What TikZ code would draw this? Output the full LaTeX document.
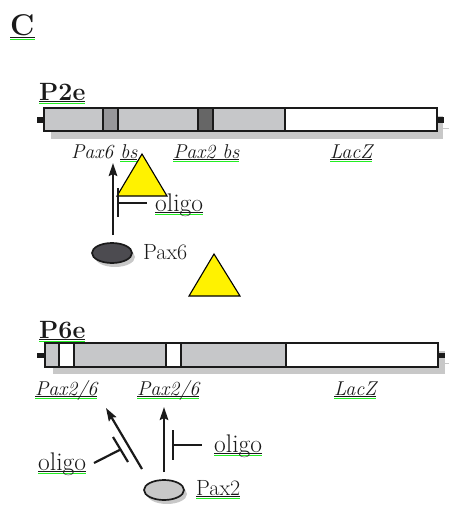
\documentclass[tikz,border=0pt]{standalone}
\usetikzlibrary{shapes.geometric,shadows,arrows.meta,calc}
\definecolor{segg}{HTML}{C6C7C9}
\definecolor{shad}{HTML}{C8C8C8}
\definecolor{ulgreen}{HTML}{22EE22}
\definecolor{boxa}{HTML}{97979A}
\definecolor{boxb}{HTML}{666666}
\definecolor{darkell}{HTML}{4C4B50}
\definecolor{ink}{HTML}{1A1A1A}
\newcommand\ulg[1]{\setbox0\hbox{#1}\rlap{\color{ink}\rule[-2.2pt]{\wd0}{0.8pt}}\rlap{\color{ulgreen}\rule[-4.4pt]{\wd0}{1.6pt}}\box0}
\begin{document}
\begin{tikzpicture}[x=1pt,y=-1pt,
  txt/.style={inner sep=0pt, anchor=base west, text=ink, font=\fontsize{22}{26}\selectfont},
  otxt/.style={inner sep=0pt, anchor=base west, text=ink, font=\fontsize{25.5}{30}\selectfont},
  itxt/.style={inner sep=0pt, anchor=base west, text=ink, font=\fontsize{20}{24}\selectfont\itshape},
  btxt/.style={inner sep=0pt, anchor=base west, text=ink, font=\fontsize{25}{30}\selectfont\bfseries},
  outline/.style={draw=ink, line width=2.1pt},
  divider/.style={draw=ink, line width=1.6pt},
  tri/.style={fill=yellow, draw=black, line width=1.1pt, line join=miter},
  arr/.style={draw=ink, line width=2.2pt, -{Stealth[length=13pt,width=8.5pt,inset=2pt]}},
  inh/.style={draw=ink, line width=2.2pt},
  protein/.style={ellipse, draw=ink, line width=1.7pt, minimum width=40pt, minimum height=20pt, inner sep=0pt,
     drop shadow={shadow xshift=3pt, shadow yshift=-4pt, fill=shad, opacity=1}}
]
\useasboundingbox (0,0) rectangle (449,508);

% panel letter
\node[inner sep=0pt, anchor=base west, text=ink, font=\fontsize{30}{36}\selectfont\bfseries] (lbC) at (10,36) {\ulg{C}};

% ---------- P2e ----------
\node[btxt] (p2e) at (39,100) {\ulg{P2e}};
\fill[shad] (51,116) rectangle (443,139);
\draw[shad, line width=1pt] (443,128) -- (449,128);
\fill[ink] (37,117.5) rectangle (44,122.5);
\fill[ink] (437,117.5) rectangle (444,122.5);
\fill[segg] (44,108) rectangle (285,131);
\fill[white] (285,108) rectangle (437,131);
\fill[boxa] (103,108) rectangle (118,131);
\fill[boxb] (198,108) rectangle (213,131);
\draw[divider] (103,108) -- (103,131);
\draw[divider] (118,108) -- (118,131);
\draw[divider] (198,108) -- (198,131);
\draw[divider] (213,108) -- (213,131);
\draw[divider] (285,108) -- (285,131);
\draw[outline] (44,108) rectangle (437,131);

\node[itxt] (l6bs) at (71,158) {Pax6 \ulg{bs}};
\node[itxt] (l2bs) at (173,158) {\ulg{Pax2 bs}};
\node[itxt] (llz1) at (330,158) {\ulg{LacZ}};

% triangle 1
\filldraw[tri] (142,154) -- (167,196) -- (117,196) -- cycle;

% Pax6 protein
\node[protein, fill=darkell] (pax6) at (112,253) {};
\node[txt] (pax6t) at (143,259) {Pax6};
\coordinate (t6) at (113,163);
\draw[arr] (t6 |- 0,235) -- (t6);

% oligo inhibitor 1
\node[otxt] (o1) at (155,211) {\ulg{oligo}};
\coordinate (b1t) at (118,188);
\coordinate (b1b) at (118,217);
\draw[inh] (b1t) -- (b1b);
\draw[inh] (b1t |- 0,203) -- (147,203);

% triangle 2
\filldraw[tri] (214,254) -- (240,296) -- (189,296) -- cycle;

% ---------- P6e ----------
\node[btxt] (p6e) at (39,338) {\ulg{P6e}};
\fill[shad] (53,351) rectangle (445,374);
\draw[shad, line width=1pt] (445,363) -- (449,363);
\fill[ink] (37,352.5) rectangle (45,357.5);
\fill[ink] (438,352.5) rectangle (445,357.5);
\fill[segg] (45,343) rectangle (286,367);
\fill[white] (286,343) rectangle (438,367);
\fill[white] (59,343) rectangle (74,367);
\fill[white] (166,343) rectangle (181,367);
\draw[divider] (59,343) -- (59,367);
\draw[divider] (74,343) -- (74,367);
\draw[divider] (166,343) -- (166,367);
\draw[divider] (181,343) -- (181,367);
\draw[divider] (286,343) -- (286,367);
\draw[outline] (45,343) rectangle (438,367);

\node[itxt] (l26a) at (35,395) {\ulg{Pax2/6}};
\node[itxt] (l26b) at (137,395) {\ulg{Pax2/6}};
\node[itxt] (llz2) at (334,395) {\ulg{LacZ}};

% Pax2 protein
\node[protein, fill=shad] (pax2) at (164,490) {};
\node[txt] (pax2t) at (196,495) {\ulg{Pax2}};

% arrows
\coordinate (d1s) at (142,469);
\coordinate (d1e) at (106,408);
\draw[arr] (d1s) -- (d1e);
\coordinate (v2e) at (164,407);
\draw[arr] (pax2.north) ++(0,-7) -- (v2e);

% oligo inhibitor (diagonal)
\node[otxt] (o2) at (38,470) {\ulg{oligo}};
\coordinate (b2a) at (113,437);
\coordinate (b2b) at (128,462);
\draw[inh] (b2a) -- (b2b);
\draw[inh] (94,463) -- ($(b2a)!0.5!(b2b)$);

% oligo inhibitor (vertical)
\node[otxt] (o3) at (214,452) {\ulg{oligo}};
\coordinate (b3t) at (173,430);
\coordinate (b3b) at (173,460);
\draw[inh] (b3t) -- (b3b);
\draw[inh] (b3t |- 0,445) -- (202,445);
\end{tikzpicture}
\end{document}
